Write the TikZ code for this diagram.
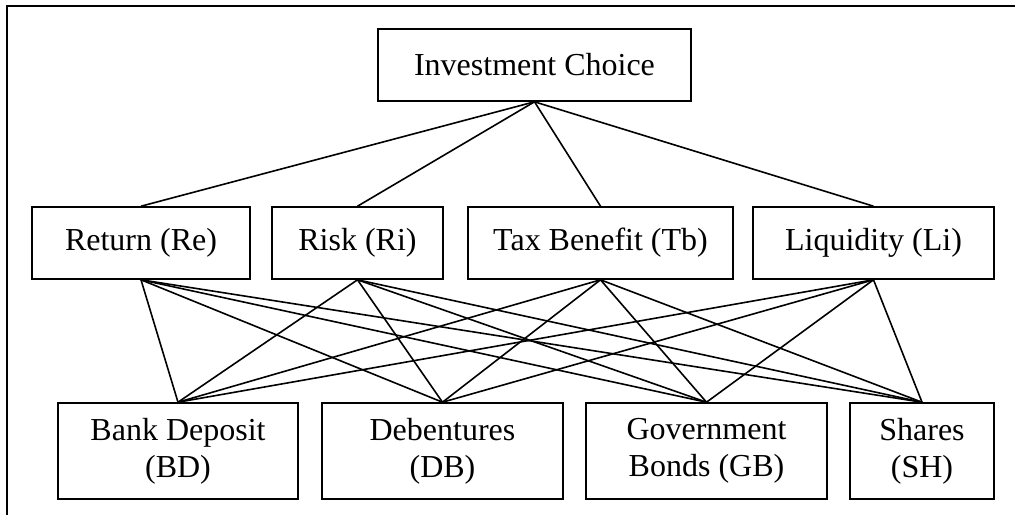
\documentclass[tikz,border=0pt]{standalone}
\usepackage{fontspec}
\setmainfont{Liberation Serif}
\begin{document}
\begin{tikzpicture}[x=1pt,y=-1pt,
  box/.style={draw,line width=1.6pt,inner sep=0pt,align=center,
    font=\fontsize{32}{37}\selectfont},
  link/.style={line width=1.6pt}]
\useasboundingbox (0,0) rectangle (1015,515);
% frame
\draw[line width=2.6pt] (7,515) -- (7,6) -- (1015,6);
% nodes
\node[box,minimum width=313pt,minimum height=72pt] (ic) at (534.5,65) {Investment Choice};
\node[box,minimum width=218pt,minimum height=72pt] (re) at (141,243) {Return (Re)};
\node[box,minimum width=171pt,minimum height=72pt] (ri) at (357.5,243) {Risk (Ri)};
\node[box,minimum width=265pt,minimum height=72pt] (tb) at (600.5,243) {Tax Benefit (Tb)};
\node[box,minimum width=241pt,minimum height=72pt] (li) at (873.5,243) {Liquidity (Li)};
\node[box,minimum width=240pt,minimum height=96pt] (bd) at (178,451) {Bank Deposit\\(BD)};
\node[box,minimum width=241pt,minimum height=96pt] (db) at (442.5,451) {Debentures\\(DB)};
\node[box,minimum width=241pt,minimum height=96pt] (gb) at (706.5,451) {Government\\Bonds (GB)};
\node[box,minimum width=144pt,minimum height=96pt] (sh) at (922,451) {Shares\\(SH)};
% connectors
\foreach \m in {re,ri,tb,li}{
  \draw[link] (ic.south) -- (\m.north);
  \foreach \b in {bd,db,gb,sh}{
    \draw[link] (\m.south) -- (\b.north);
  }
}
\end{tikzpicture}
\end{document}
